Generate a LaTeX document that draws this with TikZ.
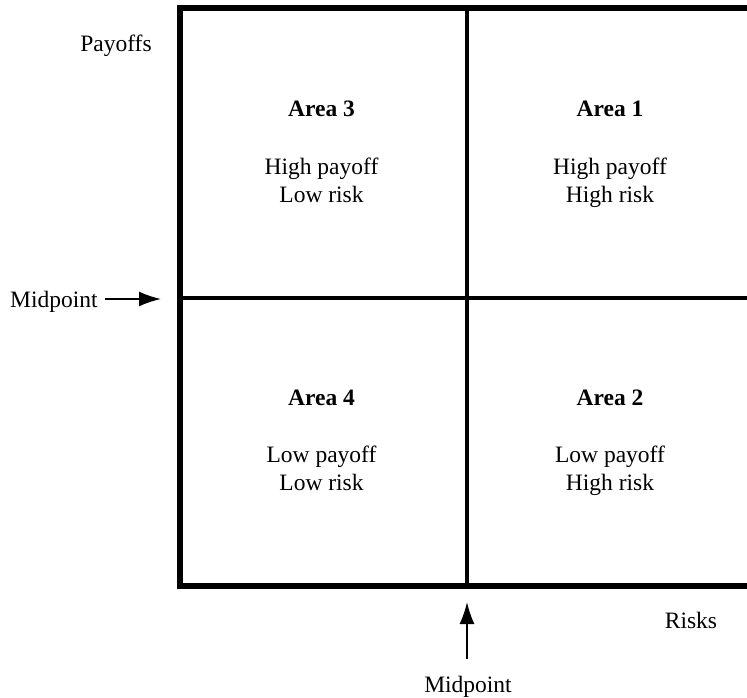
\documentclass[tikz,border=0pt]{standalone}
\usepackage{fontspec}
\setmainfont{Liberation Serif}
\usetikzlibrary{arrows.meta}
\begin{document}
\begin{tikzpicture}[x=1pt,y=-1pt,
  lbl/.style={anchor=base,inner sep=0pt,font=\fontsize{23.5}{27}\selectfont},
  area/.style={lbl,font=\fontsize{23.5}{27}\selectfont\bfseries},
  frame/.style={line width=6pt,line join=miter,line cap=butt},
  mid/.style={line width=4pt},
  arr/.style={line width=1.8pt,-{Latex[length=22pt,width=15pt]}}]
\useasboundingbox (0,0) rectangle (747,698);
% frame
\coordinate (TL) at (180,8.5);
\coordinate (TR) at (747,8.5);
\coordinate (BL) at (180,586);
\coordinate (BR) at (747,586);
\draw[frame] (TR) -- (TL) -- (BL) -- (BR);
% midlines
\coordinate (VT) at (467,8.5);
\coordinate (VB) at (467,586);
\coordinate (HL) at (180,298);
\coordinate (HR) at (747,298);
\draw[mid] (VT) -- (VB);
\draw[mid] (HL) -- (HR);
% axis labels
\node[lbl] (payoffs) at (116,52) {Payoffs};
\node[lbl] (risks) at (691,628) {Risks};
% midpoint markers
\node[lbl,anchor=base west] (midL) at (10,307) {Midpoint};
\coordinate (midLs) at (105,299);
\coordinate (midLe) at (161,299);
\draw[arr] (midLs) -- (midLe);
\node[lbl] (midB) at (468,692) {Midpoint};
\coordinate (midBs) at (467,659);
\coordinate (midBe) at (467,602);
\draw[arr] (midBs) -- (midBe);
% areas
\node[area] (a3) at (321.5,117) {Area 3};
\node[lbl] (a3a) at (321.5,175) {High payoff};
\node[lbl] (a3b) at (321.5,202) {Low risk};
\node[area] (a1) at (610,117) {Area 1};
\node[lbl] (a1a) at (610,175) {High payoff};
\node[lbl] (a1b) at (610,202) {High risk};
\node[area] (a4) at (321.5,405) {Area 4};
\node[lbl] (a4a) at (321.5,462) {Low payoff};
\node[lbl] (a4b) at (321.5,490) {Low risk};
\node[area] (a2) at (610,405) {Area 2};
\node[lbl] (a2a) at (610,462) {Low payoff};
\node[lbl] (a2b) at (610,490) {High risk};
\end{tikzpicture}
\end{document}
